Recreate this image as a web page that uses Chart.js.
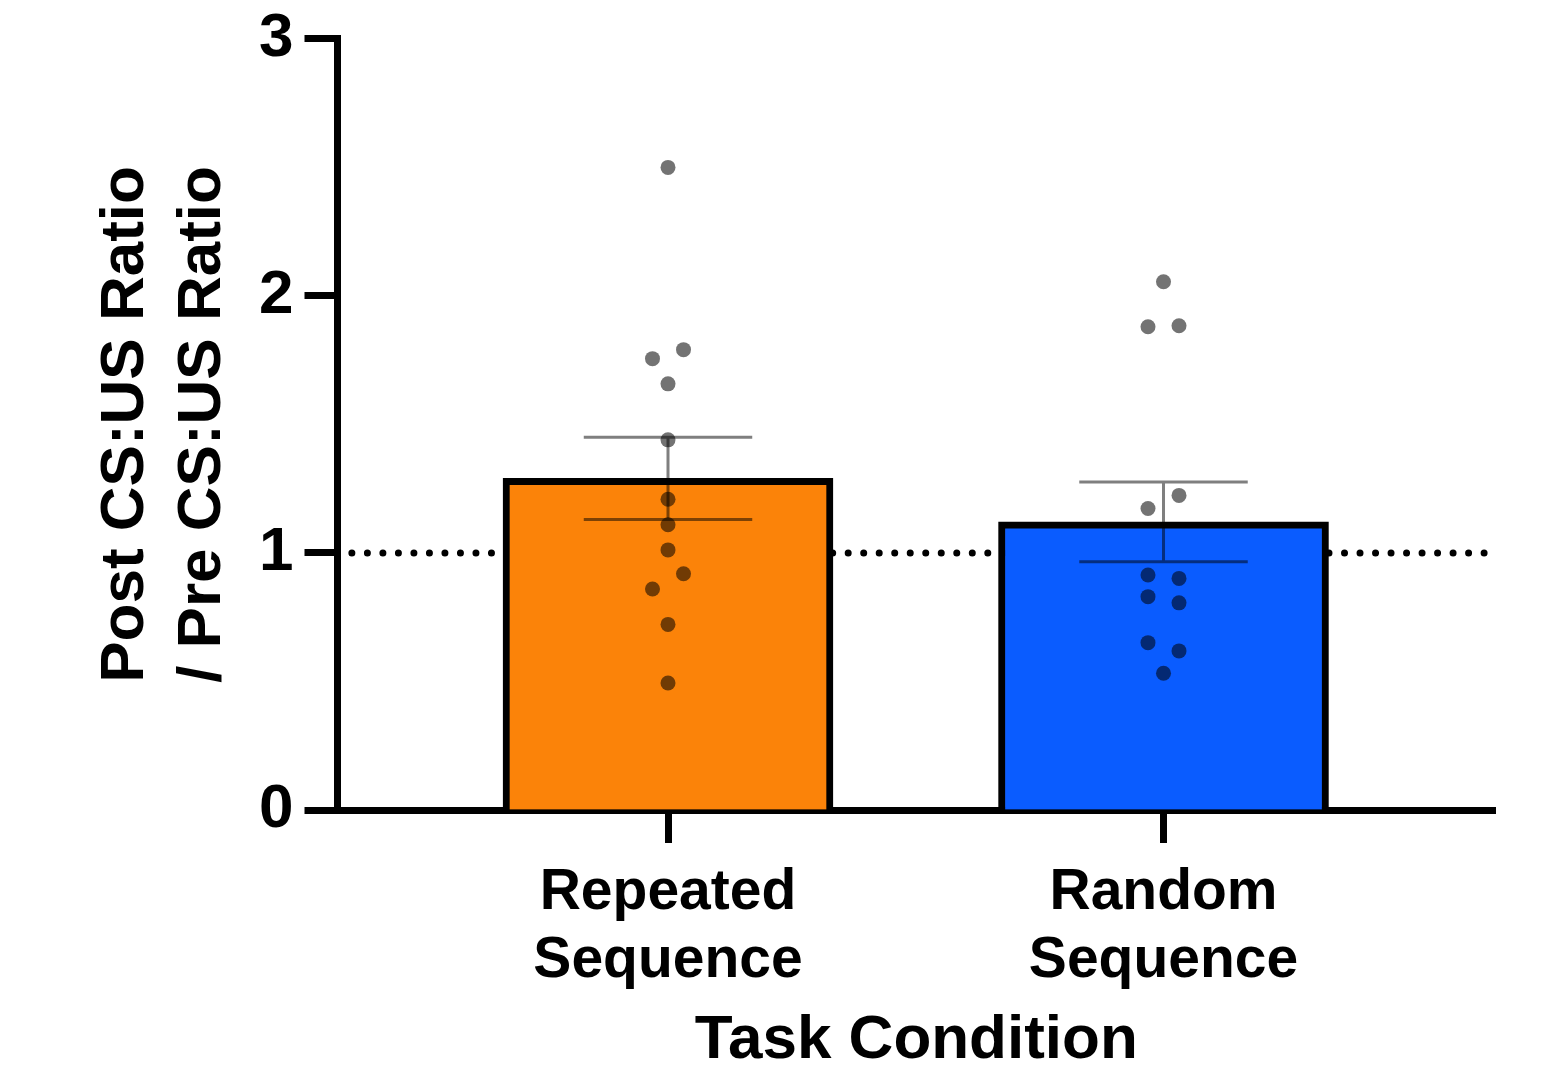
<!DOCTYPE html>
<html>
<head>
<meta charset="utf-8">
<script src="https://cdn.jsdelivr.net/npm/chart.js@4.4.1/dist/chart.umd.min.js"></script>
<style>
  html, body { margin: 0; padding: 0; background: #fff; }
  #wrap { width: 1559px; height: 1067px; }
</style>
</head>
<body>
<div id="wrap"><canvas id="chart"></canvas></div>
<script>
// data
const categories = [['Repeated', 'Sequence'], ['Random', 'Sequence']];
const barMeans = [1.29, 1.121];
const barSem = [0.16, 0.155];
const repeatedPoints = [2.500, 1.791, 1.756, 1.658, 1.440, 1.209, 1.110, 1.012, 0.919, 0.860, 0.722, 0.494];
const randomPoints = [2.055, 1.884, 1.880, 1.224, 1.173, 0.914, 0.901, 0.830, 0.806, 0.651, 0.619, 0.532];
const refValue = 1;
const yTicks = [0, 1, 2, 3];

// layout only: which side column each dot sits in (-1 left, 0 centre, 1 right)
const repeatedCols = [0, 1, -1, 0, 0, 0, 0, 0, 1, -1, 0, 0];
const randomCols = [0, 1, -1, 1, -1, -1, 1, -1, 1, -1, 1, 0];
const colStep = 0.0313;
const capHalf = 0.17;

const barColors = ['#FB8309', '#0A5CFF'];
const FONT = "'Liberation Sans', Arial, Helvetica, sans-serif";

const barData = barMeans.map((v, i) => ({ x: i, y: v }));
const pointData = [];
repeatedPoints.forEach((v, i) => pointData.push({ x: 0 + repeatedCols[i] * colStep, y: v }));
randomPoints.forEach((v, i) => pointData.push({ x: 1 + randomCols[i] * colStep, y: v }));
const refData = [{ x: -0.638, y: refValue }, { x: 1.657, y: refValue }];

// error bars (mean +/- sem)
const errorBars = {
    id: 'errorBars',
    afterDatasetsDraw(chart) {
        const { ctx, scales: { x, y } } = chart;
        const unit = x.getPixelForValue(1) - x.getPixelForValue(0);
        ctx.save();
        ctx.strokeStyle = 'rgba(0,0,0,0.5)';
        ctx.lineWidth = 3;
        barMeans.forEach((m, i) => {
            const cx = x.getPixelForValue(i);
            const hi = y.getPixelForValue(m + barSem[i]);
            const lo = y.getPixelForValue(m - barSem[i]);
            const w = capHalf * unit;
            ctx.beginPath();
            ctx.moveTo(cx - w, hi);
            ctx.lineTo(cx + w, hi);
            ctx.moveTo(cx, hi);
            ctx.lineTo(cx, lo);
            ctx.moveTo(cx - w, lo);
            ctx.lineTo(cx + w, lo);
            ctx.stroke();
        });
        ctx.restore();
    }
};

new Chart(document.getElementById('chart'), {
    type: 'bar',
    data: {
        datasets: [
            {
                type: 'scatter',
                data: pointData,
                pointRadius: 7.5,
                pointBackgroundColor: 'rgba(0,0,0,0.55)',
                pointBorderWidth: 0,
                order: 0
            },
            {
                type: 'bar',
                data: barData,
                backgroundColor: barColors,
                borderColor: '#000',
                borderWidth: 7,
                barThickness: 330,
                order: 1
            },
            {
                type: 'line',
                data: refData,
                borderColor: '#000',
                borderWidth: 7,
                borderDash: [0, 15.51],
                borderCapStyle: 'round',
                pointRadius: 0,
                order: 2
            }
        ]
    },
    options: {
        responsive: true,
        maintainAspectRatio: false,
        animation: false,
        layout: { padding: { left: 0, right: 64, top: 37, bottom: 0 } },
        plugins: {
            legend: { display: false },
            tooltip: { enabled: false }
        },
        scales: {
            x: {
                type: 'linear',
                min: -0.667,
                max: 1.669,
                offset: false,
                z: 1,
                afterFit(scale) { scale.height = 257; },
                afterBuildTicks(scale) { scale.ticks = categories.map((c, i) => ({ value: i })); },
                grid: { drawOnChartArea: false, drawTicks: true, tickLength: 33, tickWidth: 7, tickColor: '#000', offset: false },
                border: { display: true, width: 7, color: '#000' },
                ticks: {
                    color: '#000',
                    padding: 17,
                    maxRotation: 0,
                    autoSkip: false,
                    font: { family: FONT, size: 57, weight: 'bold', lineHeight: 1.18 },
                    callback: (v) => categories[v]
                },
                title: {
                    display: true,
                    text: 'Task Condition',
                    color: '#000',
                    padding: { top: 0, bottom: 0 },
                    font: { family: FONT, size: 62, weight: 'bold', lineHeight: 0.85 }
                }
            },
            y: {
                min: 0,
                max: 3,
                z: 1,
                afterFit(scale) { scale.width = 337.5; },
                afterBuildTicks(scale) { scale.ticks = yTicks.map(v => ({ value: v })); },
                grid: { drawOnChartArea: false, drawTicks: true, tickLength: 33, tickWidth: 7, tickColor: '#000' },
                border: { display: true, width: 7, color: '#000' },
                ticks: {
                    color: '#000',
                    padding: 11,
                    font: { family: FONT, size: 62, weight: 'bold', lineHeight: 0.9 }
                },
                title: {
                    display: true,
                    text: ['Post CS:US Ratio', '/ Pre CS:US Ratio'],
                    color: '#000',
                    padding: { top: 87, bottom: 0 },
                    font: { family: FONT, size: 62, weight: 'bold', lineHeight: 1.242 }
                }
            }
        }
    },
    plugins: [errorBars]
});
</script>
</body>
</html>
